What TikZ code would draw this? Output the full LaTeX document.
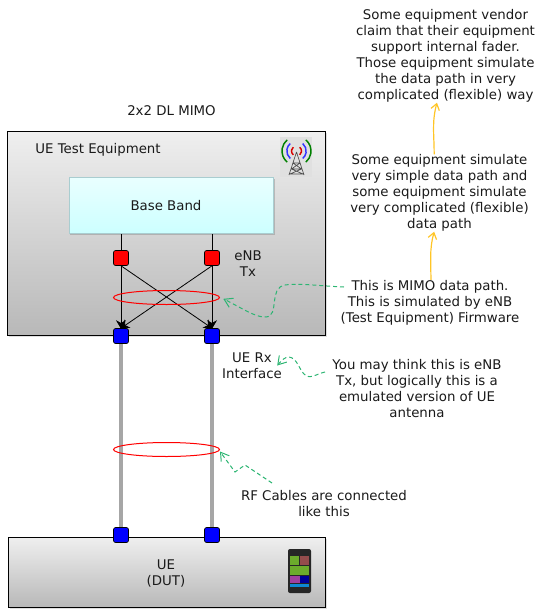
\documentclass[tikz,border=0pt]{standalone}
\usepackage{fontspec}
\setmainfont{DejaVu Sans}
\usetikzlibrary{arrows.meta,calc,positioning,shadows,shapes.geometric}
\definecolor{caja1}{HTML}{EFEFEF}
\definecolor{caja2}{HTML}{B8B8B8}
\definecolor{banda1}{HTML}{E9FFFF}
\definecolor{banda2}{HTML}{CCFFFF}
\definecolor{bordebanda}{HTML}{A9CDD0}
\definecolor{nota}{HTML}{2DB573}
\definecolor{ambar}{HTML}{FFC526}
\definecolor{cable}{HTML}{A6A6A6}
\definecolor{tinta}{HTML}{1A1A1A}
\definecolor{baldosa}{HTML}{6CAB2C}
\newcommand{\texto}{\fontsize{10}{12}\selectfont}
\tikzset{
  caja/.style={draw=black,line width=0.6pt,top color=caja1,bottom color=caja2,inner sep=0pt,drop shadow={opacity=0.25,shadow xshift=1pt,shadow yshift=-1pt}},
  banda/.style={draw=bordebanda,line width=0.5pt,top color=banda1,bottom color=banda2,inner sep=0pt,minimum width=153.4pt,minimum height=42pt,drop shadow={opacity=0.4,shadow xshift=0.8pt,shadow yshift=-0.8pt}},
  puertotx/.style={draw=black,fill=red,rounded corners=1.5pt,line width=0.5pt,inner sep=0pt,minimum size=11.2pt},
  puertorx/.style={draw=black,fill=blue,rounded corners=1.5pt,line width=0.5pt,inner sep=0pt,minimum size=11.2pt},
  rotulo/.style={font=\texto,text=tinta,align=center,inner sep=0pt},
  cruce/.style={draw=black,line width=0.6pt,-{Stealth[length=6.5pt,width=7.5pt]},shorten >=-0.5pt},
  enlace/.style={draw=black,line width=0.6pt},
  rf/.style={draw=cable,line width=2.7pt},
  anillo/.style={draw=red,line width=0.75pt,ellipse,fill=none,minimum width=79.5pt,minimum height=10.5pt,inner sep=0pt},
  llamada/.style={draw=nota,line width=0.75pt,dash pattern=on 3pt off 2.2pt,-{Straight Barb[length=6pt,width=7.5pt]}},
  avance/.style={draw=ambar,line width=0.9pt,-{Straight Barb[length=4.5pt,width=6.5pt]}},
}
\begin{document}
\begin{tikzpicture}[x=0.75pt,y=-0.75pt]
\useasboundingbox (0,0) rectangle (546,615);
% cajas
\node[caja,minimum width=238.8pt,minimum height=153.3pt] (equipo) at (166.5,233.5) {};
\node[caja,minimum width=238pt,minimum height=52.5pt] (ue) at (167,572.3) {};
\node[banda] (baseband) at (171.3,205.8) {};
\node[rotulo] (bandatxt) at (166,206) {Base Band};
\node[rotulo] (titulo) at (171.5,111) {2x2 DL MIMO};
\node[rotulo] (nombre) at (98,150) {UE Test Equipment};
\node[rotulo] (dut) at (166,574) {UE\\(DUT)};
% puertos
\node[puertotx] (tx1) at (121,258) {};
\node[puertotx] (tx2) at (212,258) {};
\node[puertorx] (rx1) at (121,336) {};
\node[puertorx] (rx2) at (212,336) {};
\node[puertorx] (ant1) at (121,535) {};
\node[puertorx] (ant2) at (212,535) {};
\node[rotulo] (etx) at (248,264) {eNB\\Tx};
\node[rotulo] (erx) at (252,365.5) {UE Rx\\Interface};
% textos
\node[rotulo] (n1) at (445.5,56) {Some equipment vendor\\claim that their equipment\\support internal fader.\\Those equipment simulate\\the data path in very\\complicated (flexible) way};
\node[rotulo] (n2) at (439.5,193) {Some equipment simulate\\very simple data path and\\some equipment simulate\\very complicated (flexible)\\data path};
\node[rotulo] (n3) at (430,302.5) {This is MIMO data path.\\This is simulated by eNB\\(Test Equipment) Firmware};
\node[rotulo] (n4) at (417,388.5) {You may think this is eNB\\Tx, but logically this is a\\emulated version of UE\\antenna};
\node[rotulo] (n5) at (324,503.5) {RF Cables are connected\\like this};
% enlaces
\draw[enlace] (baseband.south -| tx1) -- (tx1);
\draw[enlace] (baseband.south -| tx2) -- (tx2);
\draw[cruce] (tx1) -- (rx1);
\draw[cruce] (tx2) -- (rx2);
\draw[cruce] (tx1.south) -- (rx2.north);
\draw[cruce] (tx2.south) -- (rx1.north);
\draw[rf] (rx1) -- (ant1);
\draw[rf] (rx2) -- (ant2);
\node[anillo] (aro1) at (166.5,297.5) {};
\node[anillo] (aro2) at (166.5,449.5) {};
% llamadas
\coordinate (c3) at (344,287);
\coordinate (c4) at (325,372);
\coordinate (c5) at (272,483);
\draw[llamada] (c3) .. controls (320,286) and (300,283) .. (285,285) .. controls (268,288) and (280,316) .. (266,317) .. controls (256,318) and (240,307) .. ([xshift=2.5pt,yshift=-1pt]aro1.east);
\draw[llamada] (c4) .. controls (316,374) and (310,380) .. (304,374) .. controls (299,369) and (297,358) .. (289,357) .. controls (285,357) and (282,360) .. ([xshift=-3.7pt]erx.east);
\draw[llamada] (c5) -- (245,465) -- (235,472) -- ([yshift=-1.5pt]aro2.east);
\draw[avance] ([xshift=0.7pt]n3.north) to[out=90,in=-105] ([xshift=-4pt]n2.south);
\draw[avance] ([xshift=-4pt]n2.north) to[out=90,in=-105] ([xshift=-6.4pt]n1.south);
% antena
\fill[black!12] (280,137) rectangle (312,177);
\draw[black!70,line width=0.5pt] (296.5,152) -- (289,175) (296.5,152) -- (304,175) (293,163) -- (300,163) (291.5,169) -- (301.5,169) (290,174) -- (303,174) (293,163) -- (301.5,169) (300,163) -- (291.5,169) (291.5,169) -- (303,174) (301.5,169) -- (290,174);
\foreach \r/\c in {5/red!85!black,9.7/blue!80,14.5/green!50!black}{
  \draw[\c,line width=1.1pt] (296.5,151) ++(-50:\r) arc (-50:50:\r);
  \draw[\c,line width=1.1pt] (296.5,151) ++(130:\r) arc (130:230:\r);
}
% telefono
\fill[black!85,rounded corners=1.5pt] (288,549) rectangle (311,593);
\fill[baldosa] (290,556) rectangle (299,565);
\fill[black!60!red!70] (300,556) rectangle (309,565);
\fill[baldosa] (290,565.5) rectangle (299.5,575);
\fill[baldosa] (300,565.5) rectangle (309,575);
\fill[violet!75] (290,575.5) rectangle (299.5,583);
\fill[blue!60!black] (300,575.5) rectangle (309,583);
\fill[cyan!70!blue] (290,583.5) rectangle (309,587);
\end{tikzpicture}
\end{document}
